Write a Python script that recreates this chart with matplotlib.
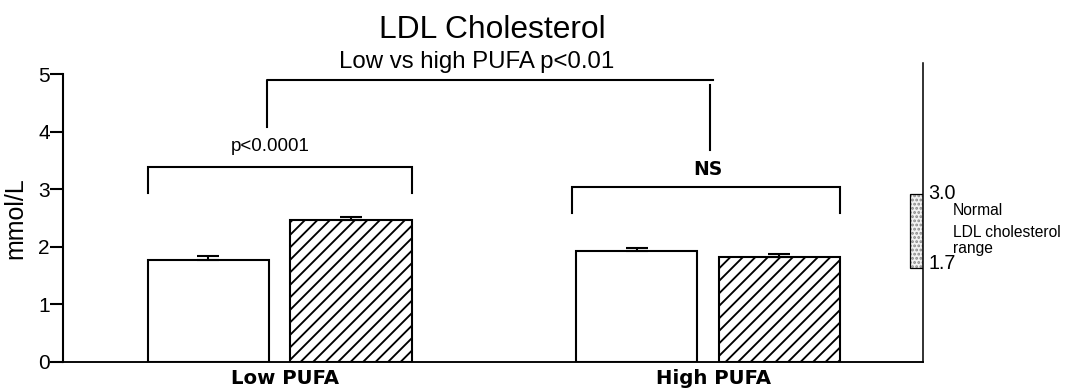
import matplotlib
matplotlib.use("Agg")
import matplotlib.pyplot as plt

plt.rcParams['font.family'] = ['Liberation Sans', 'DejaVu Sans']
plt.rcParams['hatch.linewidth'] = 1.8

# data
groups = ['Low PUFA', 'High PUFA']
plain_means = [1.76, 1.93]
plain_err = [0.07, 0.04]
hatched_means = [2.46, 1.82]
hatched_err = [0.06, 0.06]
normal_low = 1.63
normal_high = 2.92
normal_labels = ['3.0', '1.7']
yticks = [0, 1, 2, 3, 4, 5]

DPI = 75
fig = plt.figure(figsize=(1077 / DPI, 389 / DPI), dpi=DPI)
ax = fig.add_axes([0.0585, 0.0702, 0.7985, 0.7686])
ax.set_xlim(0, 10)
ax.set_ylim(0, 5.2)

centers = [2.52, 7.50]
off = 0.83
w = 1.41
x_plain = [c - off for c in centers]
x_hatch = [c + off for c in centers]

ax.bar(x_plain, plain_means, width=w, color='white', edgecolor='black', linewidth=2, zorder=3)
ax.bar(x_hatch, hatched_means, width=w, color='white', edgecolor='black', linewidth=2,
       hatch='//', zorder=3)
ax.errorbar(x_plain, plain_means, yerr=[[0, 0], plain_err], fmt='none', ecolor='black',
            elinewidth=2, capsize=11, capthick=2, zorder=4)
ax.errorbar(x_hatch, hatched_means, yerr=[[0, 0], hatched_err], fmt='none', ecolor='black',
            elinewidth=2, capsize=11, capthick=2, zorder=4)

# brackets within each group
def bracket(x0, x1, y, ydown, lw=2):
    ax.plot([x0, x0, x1, x1], [ydown, y, y, ydown], color='black', lw=lw,
            solid_joinstyle='miter', clip_on=False)

bracket(x_plain[0] - w / 2, x_hatch[0] + w / 2, 3.39, 2.93)
bracket(x_plain[1] - w / 2 - 0.05, x_hatch[1] + w / 2, 3.04, 2.59)
ax.text(2.41, 3.66, 'p<0.0001', ha='center', va='baseline', fontsize=18)
ax.text(7.50, 3.24, 'NS', ha='center', va='baseline', fontsize=18, fontweight='bold',
        family='DejaVu Sans')

# bracket between groups
ax.plot([2.37, 2.37, 7.56], [4.08, 4.90, 4.90], color='black', lw=2, clip_on=False)
ax.plot([7.52, 7.52], [4.81, 3.68], color='black', lw=2, clip_on=False)

# normal range box (stippled)
ax.bar([9.925], [normal_high - normal_low], bottom=normal_low, width=0.15,
       color='#f2f2f2', edgecolor='#8a8a8a', linewidth=0, hatch='...', zorder=2)
ax.bar([9.925], [normal_high - normal_low], bottom=normal_low, width=0.15,
       fill=False, edgecolor='black', linewidth=1.2, zorder=2)
ax.text(10.06, normal_high, normal_labels[0], ha='left', va='center', fontsize=19, clip_on=False)
ax.text(10.06, normal_low + 0.08, normal_labels[1], ha='left', va='center', fontsize=19,
        clip_on=False)
ax.text(10.35, 2.55, 'Normal', ha='left', va='baseline', fontsize=15)
ax.text(10.35, 2.17, 'LDL cholesterol', ha='left', va='baseline', fontsize=15)
ax.text(10.35, 1.89, 'range', ha='left', va='baseline', fontsize=15)

# axes styling
ax.spines['top'].set_visible(False)
ax.spines['left'].set_bounds(0, 5)
ax.spines['left'].set_linewidth(2)
ax.spines['bottom'].set_linewidth(1.8)
ax.spines['right'].set_linewidth(1.5)
ax.set_yticks(yticks)
ax.set_yticklabels([str(t) for t in yticks], fontsize=20)
ax.tick_params(axis='y', length=12.5, width=2, pad=0)
ax.set_xticks([c + 0.06 for c in centers])
ax.set_xticklabels(groups, fontsize=19, fontweight='bold', family='DejaVu Sans')
ax.tick_params(axis='x', length=0, pad=7)
ax.set_ylabel('mmol/L', fontsize=24)
ax.yaxis.set_label_coords(-0.042, 5 / 5.2 / 2)

fig.text(492 / 1077, 1 - 38 / 389, 'LDL Cholesterol', ha='center', va='baseline', fontsize=30.5)
fig.text(477 / 1077, 1 - 68 / 389, 'Low vs high PUFA p<0.01', ha='center', va='baseline', fontsize=23)

fig.savefig("out.png", dpi=DPI)
